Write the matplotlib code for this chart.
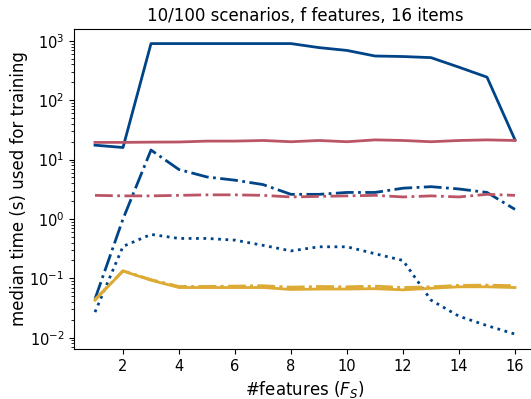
import matplotlib
matplotlib.use("Agg")
import matplotlib.pyplot as plt

features = list(range(1, 17))

# blue series
blue_solid = [17.5, 16, 900, 900, 900, 900, 900, 900, 770, 690, 556, 545, 522, 360, 245, 21.5]
blue_dashdot = [0.045, 1.0, 14.5, 6.8, 5.1, 4.5, 3.8, 2.6, 2.6, 2.8, 2.8, 3.3, 3.5, 3.2, 2.8, 1.45]
blue_dotted = [0.027, 0.345, 0.55, 0.47, 0.47, 0.44, 0.36, 0.29, 0.34, 0.34, 0.26, 0.2, 0.043, 0.023, 0.016, 0.0115]

# red series
red_solid = [19.5, 19.5, 19.7, 19.8, 20.5, 20.5, 21, 20, 21, 20, 21.5, 21, 20, 21, 21.5, 21]
red_dashdot = [2.5, 2.45, 2.45, 2.5, 2.55, 2.55, 2.5, 2.35, 2.4, 2.45, 2.5, 2.35, 2.45, 2.35, 2.6, 2.5]

# yellow series
yellow_solid = [0.043, 0.133, 0.093, 0.07, 0.07, 0.07, 0.07, 0.065, 0.066, 0.066, 0.067, 0.064, 0.068, 0.072, 0.072, 0.07]
yellow_dashdot = [0.044, 0.134, 0.095, 0.073, 0.073, 0.074, 0.075, 0.071, 0.073, 0.072, 0.074, 0.07, 0.072, 0.076, 0.077, 0.075]
yellow_dotted = [0.044, 0.133, 0.094, 0.072, 0.072, 0.073, 0.074, 0.069, 0.071, 0.07, 0.072, 0.068, 0.071, 0.075, 0.076, 0.074]

BLUE, RED, YELLOW = "#004488", "#BB5566", "#DDAA33"

fig = plt.figure(figsize=(5.31, 3.99), dpi=100)
ax = fig.add_axes([74 / 531, 1 - 349 / 399, (536 - 74) / 531, (349 - 29) / 399])

lw = 2
ax.plot(features, blue_solid, color=BLUE, lw=lw, ls="-")
ax.plot(features, blue_dashdot, color=BLUE, lw=lw, ls="-.")
ax.plot(features, blue_dotted, color=BLUE, lw=lw, ls=":")
ax.plot(features, red_solid, color=RED, lw=lw, ls="-")
ax.plot(features, red_dashdot, color=RED, lw=lw, ls="-.")
ax.plot(features, yellow_dotted, color=YELLOW, lw=lw, ls=":")
ax.plot(features, yellow_dashdot, color=YELLOW, lw=lw, ls="-.")
ax.plot(features, yellow_solid, color=YELLOW, lw=lw, ls="-")

ax.set_yscale("log")
ax.set_xlim(0.25, 16.75)
ax.set_ylim(10 ** -2.19, 10 ** 3.2)
ax.set_xticks([2, 4, 6, 8, 10, 12, 14, 16])
ax.tick_params(labelsize=10.5)
ax.set_title("10/100 scenarios, f features, 16 items", fontsize=12)
ax.set_xlabel("#features ($F_S$)", fontsize=12)
ax.set_ylabel("median time (s) used for training", fontsize=12, labelpad=1)

fig.savefig("out.png", dpi=100)
